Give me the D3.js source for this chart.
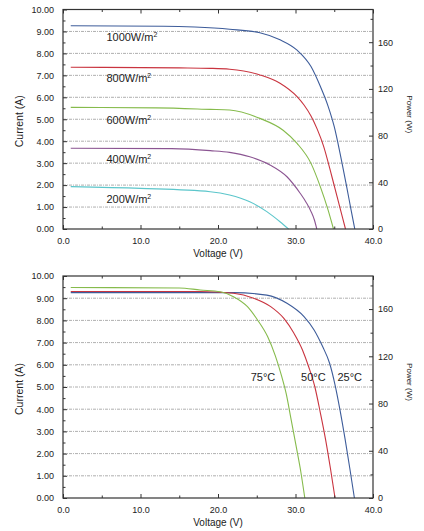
<!DOCTYPE html>
<html>
<head>
<meta charset="utf-8">
<script src="https://cdn.jsdelivr.net/npm/d3@7"></script>
<style>
  body { margin: 0; background: #fff; }
  svg text { font-family: "Liberation Sans", Arial, sans-serif; fill: #222; }
</style>
</head>
<body>
<div id="chart"></div>
<script>
// I-V curves: [voltage (V), current (A)]
const irr1000 = [[1, 9.26], [13, 9.24], [17, 9.2], [21.5, 9.1], [25.4, 8.94], [28, 8.62], [30.2, 8.15], [32, 7.4], [33.2, 6.5], [34.2, 5.6], [35, 4.66], [35.75, 3.45], [36.6, 1.93], [37.25, 0.72], [37.65, 0]];
const irr800 = [[1, 7.37], [15, 7.34], [19, 7.32], [21.5, 7.28], [25.4, 7.02], [28, 6.64], [30.2, 6.03], [31.1, 5.65], [32, 5.15], [32.8, 4.55], [33.6, 3.8], [34.7, 2.38], [35.7, 1.02], [36.45, 0]];
const irr600 = [[1, 5.54], [12, 5.52], [19, 5.45], [21.5, 5.42], [25.4, 5.04], [28.4, 4.5], [30.2, 3.9], [32, 2.99], [33.2, 1.93], [34.2, 0.87], [34.9, 0]];
const irr400 = [[1, 3.68], [14, 3.66], [19, 3.57], [21.5, 3.49], [24.1, 3.29], [26.7, 2.92], [28.9, 2.38], [30.6, 1.63], [31.4, 1.2], [32, 0.8], [32.45, 0.4], [32.75, 0]];
const irr200 = [[1, 1.93], [10, 1.85], [19, 1.7], [21.5, 1.55], [24.1, 1.24], [26.3, 0.79], [28, 0.33], [29.1, 0]];

const t25 = [[1, 9.25], [22, 9.25], [26.3, 9.14], [28.9, 8.77], [31.1, 8.17], [32.4, 7.57], [33.5, 6.82], [34.4, 6.07], [35.1, 5.1], [35.75, 3.95], [36.4, 2.65], [37, 1.35], [37.6, 0]];
const t50 = [[1, 9.3], [17.7, 9.3], [22, 9.22], [24.6, 9.0], [26.8, 8.62], [28.5, 8.09], [29.8, 7.42], [30.9, 6.67], [31.7, 5.91], [32.5, 5.0], [33.2, 3.85], [33.9, 2.6], [34.5, 1.35], [35.1, 0]];
const t75 = [[1, 9.48], [15, 9.46], [17.7, 9.37], [20.3, 9.29], [22, 9.07], [23.8, 8.62], [25.1, 8.02], [26.4, 7.27], [27.4, 6.4], [28.2, 5.5], [28.8, 4.7], [29.4, 3.6], [30.1, 2.3], [30.7, 1.15], [31.2, 0]];

const irrLabels = ["1000", "800", "600", "400", "200"];
const irrLabelCurrent = [8.55, 6.68, 4.8, 3.0, 1.18];
const tempLabels = ["75°C", "50°C", "25°C"];
const tempLabelVoltage = [25.8, 32.3, 37.0];
const tempLabelCurrent = 5.27;

const currentTicks = d3.range(0, 10.01, 1);
const voltageTicks = [0, 10, 20, 30, 40];
const powerTicks = [0, 40, 80, 120, 160];
const powerMax = 188;

const blue = "#3d5c9a", red = "#c9343f", green = "#86bb4c", purple = "#8b5592", cyan = "#5cc6cb";

const width = 424, height = 531;
const svg = d3.select("#chart").append("svg")
  .attr("width", width).attr("height", height)
  .attr("viewBox", [0, 0, width, height]);

function drawPanel({ top, bottom, series, colors }) {
  const left = 63, right = 373;
  const x = d3.scaleLinear().domain([0, 40]).range([left, right]);
  const y = d3.scaleLinear().domain([0, 10]).range([bottom, top]);
  const yP = d3.scaleLinear().domain([0, powerMax]).range([bottom, top]);
  const g = svg.append("g");

  // dotted grid
  g.selectAll(".grid")
    .data(currentTicks.filter((d) => d > 0 && d < 10))
    .join("line")
    .attr("x1", left).attr("x2", right)
    .attr("y1", (d) => y(d)).attr("y2", (d) => y(d))
    .attr("stroke", "#9a9a9a")
    .attr("stroke-width", 0.8)
    .attr("stroke-dasharray", "3,1,1,1");

  const line = d3.line()
    .x((d) => x(d[0]))
    .y((d) => y(d[1]))
    .curve(d3.curveMonotoneX);

  g.selectAll(".curve")
    .data(series)
    .join("path")
    .attr("d", line)
    .attr("fill", "none")
    .attr("stroke", (d, i) => colors[i])
    .attr("stroke-width", 1.1);

  // axes, ticks inward
  const ax = (sel, axis) => sel.call(axis).call((s) => {
    s.select(".domain").remove();
    s.selectAll("line").attr("stroke", "#333");
    s.selectAll("text").attr("fill", "#222").style("font-size", "9px")
      .style("font-family", '"Liberation Sans", Arial, sans-serif');
  });
  const minor = (sel, axis) => sel.call(axis).call((s) => {
    s.select(".domain").remove();
    s.selectAll("line").attr("stroke", "#333");
  });

  ax(g.append("g").attr("transform", `translate(${left},0)`),
    d3.axisLeft(y).tickValues(currentTicks).tickSize(-4).tickPadding(9).tickFormat(d3.format(".2f")));
  minor(g.append("g").attr("transform", `translate(${left},0)`),
    d3.axisLeft(y).tickValues(d3.range(0.5, 10, 1)).tickSize(-2.5).tickFormat(""));

  ax(g.append("g").attr("transform", `translate(0,${bottom})`),
    d3.axisBottom(x).tickValues(voltageTicks).tickSize(-4).tickPadding(9).tickFormat(d3.format(".1f")));
  minor(g.append("g").attr("transform", `translate(0,${bottom})`),
    d3.axisBottom(x).tickValues([5, 15, 25, 35]).tickSize(-2.5).tickFormat(""));
  minor(g.append("g").attr("transform", `translate(0,${top})`),
    d3.axisTop(x).tickValues(voltageTicks).tickSize(-4).tickFormat(""));
  minor(g.append("g").attr("transform", `translate(0,${top})`),
    d3.axisTop(x).tickValues([5, 15, 25, 35]).tickSize(-2.5).tickFormat(""));

  ax(g.append("g").attr("transform", `translate(${right},0)`),
    d3.axisRight(yP).tickValues(powerTicks).tickSize(-4).tickPadding(5));
  minor(g.append("g").attr("transform", `translate(${right},0)`),
    d3.axisRight(yP).tickValues([20, 60, 100, 140, 180]).tickSize(-2.5).tickFormat(""));

  // frame
  g.append("rect")
    .attr("x", left).attr("y", top)
    .attr("width", right - left).attr("height", bottom - top)
    .attr("fill", "none").attr("stroke", "#333").attr("stroke-width", 1.2);

  // titles
  g.append("text")
    .attr("x", 218).attr("y", bottom + 28)
    .attr("text-anchor", "middle").style("font-size", "10px")
    .text("Voltage (V)");
  g.append("text")
    .attr("transform", `translate(23,${(top + bottom) / 2 + 2}) rotate(-90)`)
    .attr("text-anchor", "middle").style("font-size", "10.5px")
    .text("Current (A)");
  g.append("text")
    .attr("transform", `translate(407,${(top + bottom) / 2 - 5}) rotate(90)`)
    .attr("text-anchor", "middle").style("font-size", "8px")
    .text("Power (W)");

  return { x, y };
}

const p1 = drawPanel({
  top: 9.5, bottom: 229,
  series: [irr1000, irr800, irr600, irr400, irr200],
  colors: [blue, red, green, purple, cyan],
});

const irrText = svg.append("g").selectAll("text")
  .data(irrLabels)
  .join("text")
  .attr("x", p1.x(5.6))
  .attr("y", (d, i) => p1.y(irrLabelCurrent[i]))
  .style("font-size", "11px");
irrText.append("tspan").text((d) => d + "W/m");
irrText.append("tspan").attr("dy", -4).style("font-size", "7px").text("2");

const p2 = drawPanel({
  top: 276, bottom: 498,
  series: [t25, t50, t75],
  colors: [blue, red, green],
});

svg.append("g").selectAll("text")
  .data(tempLabels)
  .join("text")
  .attr("x", (d, i) => p2.x(tempLabelVoltage[i]))
  .attr("y", p2.y(tempLabelCurrent))
  .attr("text-anchor", "middle")
  .style("font-size", "11px")
  .text((d) => d);
</script>
</body>
</html>
